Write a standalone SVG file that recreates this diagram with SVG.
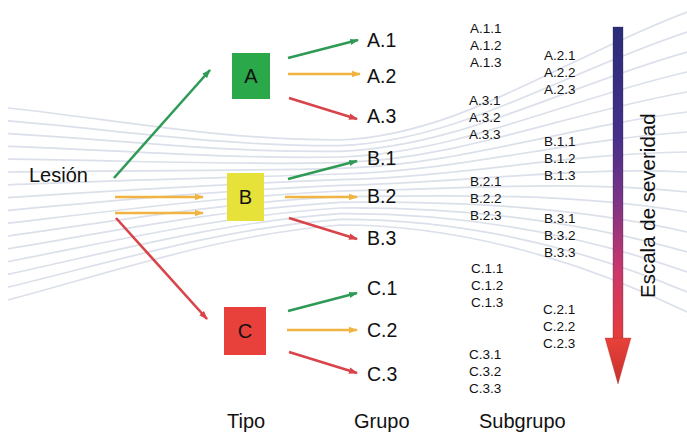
<svg xmlns="http://www.w3.org/2000/svg" width="687" height="435" viewBox="0 0 687 435">
<style>
  .bg { fill: none; stroke: #dbe0ea; stroke-width: 1.7; }
  .lbl { font-family: "Liberation Sans", Arial, sans-serif; fill: #111; }
  .grp { font-size: 19.5px; }
  .sub { font-size: 13.5px; }
  .col { font-size: 20px; }
  .box-t { font-size: 20px; text-anchor: middle; }
  .g { stroke: #2f9a55; stroke-width: 2.6; fill: none; marker-end: url(#mg); }
  .o { stroke: #f0b443; stroke-width: 2.6; fill: none; marker-end: url(#mo); }
  .r { stroke: #d9434a; stroke-width: 2.6; fill: none; marker-end: url(#mr); }
</style>
<defs>
  <marker id="mg" markerUnits="userSpaceOnUse" markerWidth="9" markerHeight="8" refX="8" refY="4" orient="auto"><path d="M0,0.8 L9,4 L0,7.2 z" fill="#2f9a55"/></marker>
  <marker id="mo" markerUnits="userSpaceOnUse" markerWidth="9" markerHeight="8" refX="8" refY="4" orient="auto"><path d="M0,0.8 L9,4 L0,7.2 z" fill="#f0b443"/></marker>
  <marker id="mr" markerUnits="userSpaceOnUse" markerWidth="9" markerHeight="8" refX="8" refY="4" orient="auto"><path d="M0,0.8 L9,4 L0,7.2 z" fill="#d9434a"/></marker>
  <linearGradient id="sev" x1="0" y1="0" x2="0" y2="1">
    <stop offset="0" stop-color="#2b2d78"/>
    <stop offset="0.35" stop-color="#46308a"/>
    <stop offset="0.55" stop-color="#7a3487"/>
    <stop offset="0.78" stop-color="#cc376a"/>
    <stop offset="1" stop-color="#e83c3a"/>
  </linearGradient>
  <linearGradient id="head" x1="0" y1="0" x2="0" y2="1">
    <stop offset="0" stop-color="#e8423a"/>
    <stop offset="1" stop-color="#c6302c"/>
  </linearGradient>
</defs>

<g id="background">
  <path class="bg" d="M8,108 C120,120 220,140 340,140 C460,135 560,60 687,12"/>
  <path class="bg" d="M8,120.8 C120,130 220,146.3 340,145.7 C460,141 561.3,73.3 687,32"/>
  <path class="bg" d="M8,133.6 C120,140 220,152.7 340,151.3 C460,147 562.7,86.7 687,52"/>
  <path class="bg" d="M8,146.4 C120,150 220,159 340,157 C460,153 564,100 687,72"/>
  <path class="bg" d="M8,159.2 C120,160 220,165.3 340,162.7 C460,159 565.3,113.3 687,92"/>
  <path class="bg" d="M8,172 C120,170 220,171.7 340,168.3 C460,165 566.7,126.7 687,112"/>
  <path class="bg" d="M8,184.8 C120,180 220,178 340,174 C460,171 568,140 687,132"/>
  <path class="bg" d="M8,197.6 C120,190 220,184.3 340,179.7 C460,177 569.3,153.3 687,152"/>
  <path class="bg" d="M8,210.4 C120,200 220,190.7 340,185.3 C460,183 570.7,166.7 687,172"/>
  <path class="bg" d="M8,223.2 C120,210 220,197 340,191 C460,189 572,180 687,192"/>
  <path class="bg" d="M8,236 C120,220 220,203.3 340,196.7 C460,195 573.3,193.3 687,212"/>
  <path class="bg" d="M8,248.8 C120,230 220,209.7 340,202.3 C460,201 574.7,206.7 687,232"/>
  <path class="bg" d="M8,261.6 C120,240 220,216 340,208 C460,207 576,220 687,252"/>
  <path class="bg" d="M8,274.4 C120,250 220,222.3 340,213.7 C460,213 577.3,233.3 687,272"/>
  <path class="bg" d="M8,287.2 C120,260 220,228.7 340,219.3 C460,219 578.7,246.7 687,292"/>
  <path class="bg" d="M8,300 C120,270 220,235 340,225 C460,225 580,260 687,312"/>
</g>

<g id="connectors">
  <path class="g" d="M114,178 L210,70"/>
  <path class="o" d="M115,197 L203,197"/>
  <path class="o" d="M115,213 L203,213"/>
  <path class="r" d="M116,218 L207,319"/>
  <path class="g" d="M288,58 L358,40"/>
  <path class="o" d="M288,74 L360,74"/>
  <path class="r" d="M289,98 L357,119"/>
  <path class="g" d="M288,179 L357,161"/>
  <path class="o" d="M285,197 L357,197"/>
  <path class="r" d="M289,218 L357,239"/>
  <path class="g" d="M288,311 L357,293"/>
  <path class="o" d="M287,330 L357,330"/>
  <path class="r" d="M289,352 L357,373"/>
</g>

<g id="lesion"><text class="lbl" x="29" y="182" font-size="20">Lesión</text></g>

<g id="tipo-A">
  <rect x="232" y="53" width="38" height="46" fill="#2aa84a"/>
  <text class="lbl box-t" x="251" y="83">A</text>
</g>
<g id="tipo-B">
  <rect x="227" y="173" width="37" height="48" fill="#e6e23a"/>
  <text class="lbl box-t" x="245.5" y="204">B</text>
</g>
<g id="tipo-C">
  <rect x="224" y="307" width="42" height="48" fill="#e8403a"/>
  <text class="lbl box-t" x="245" y="338">C</text>
</g>

<g id="grupos" class="lbl grp">
  <text x="367" y="47">A.1</text>
  <text x="367" y="83">A.2</text>
  <text x="367" y="123">A.3</text>
  <text x="367" y="165">B.1</text>
  <text x="367" y="203">B.2</text>
  <text x="367" y="245">B.3</text>
  <text x="367" y="295">C.1</text>
  <text x="367" y="337">C.2</text>
  <text x="367" y="381">C.3</text>
</g>

<g id="subgrupos" class="lbl sub">
  <text x="470" y="33">A.1.1</text>
  <text x="470" y="50">A.1.2</text>
  <text x="470" y="67">A.1.3</text>
  <text x="544" y="60">A.2.1</text>
  <text x="544" y="77">A.2.2</text>
  <text x="544" y="94">A.2.3</text>
  <text x="469" y="105">A.3.1</text>
  <text x="469" y="122">A.3.2</text>
  <text x="469" y="139">A.3.3</text>
  <text x="544" y="146">B.1.1</text>
  <text x="544" y="163">B.1.2</text>
  <text x="544" y="180">B.1.3</text>
  <text x="470" y="186">B.2.1</text>
  <text x="470" y="203">B.2.2</text>
  <text x="470" y="220">B.2.3</text>
  <text x="544" y="223">B.3.1</text>
  <text x="544" y="240">B.3.2</text>
  <text x="544" y="257">B.3.3</text>
  <text x="471" y="273">C.1.1</text>
  <text x="471" y="290">C.1.2</text>
  <text x="471" y="307">C.1.3</text>
  <text x="543" y="314">C.2.1</text>
  <text x="543" y="331">C.2.2</text>
  <text x="543" y="348">C.2.3</text>
  <text x="469" y="359">C.3.1</text>
  <text x="469" y="376">C.3.2</text>
  <text x="469" y="393">C.3.3</text>
</g>

<g id="severity">
  <rect x="613" y="27" width="10" height="313" fill="url(#sev)" stroke="#1e1e40" stroke-opacity="0.35" stroke-width="0.8"/>
  <polygon points="605,338 631,338 618,384" fill="url(#head)" stroke="#a02828" stroke-opacity="0.4" stroke-width="0.8"/>
  <text class="lbl" font-size="20.5" transform="translate(655,298) rotate(-90)">Escala de severidad</text>
</g>

<g id="columnas" class="lbl col">
  <text x="227" y="428">Tipo</text>
  <text x="354" y="428">Grupo</text>
  <text x="479" y="428">Subgrupo</text>
</g>
</svg>
